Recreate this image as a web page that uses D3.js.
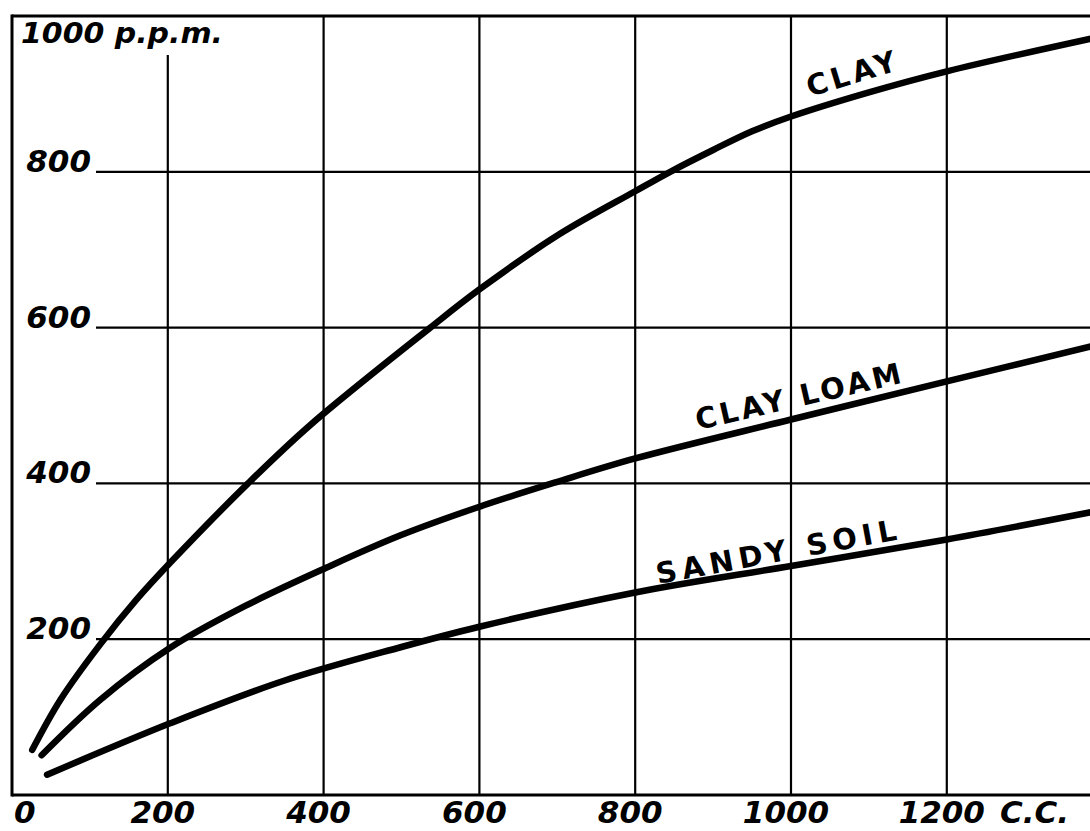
<!DOCTYPE html>
<html>
<head>
<meta charset="utf-8">
<script src="https://cdn.jsdelivr.net/npm/d3@7"></script>
<style>
  html, body { margin: 0; padding: 0; background: #fff; }
  svg { display: block; }
  text { font-family: "DejaVu Sans", sans-serif; fill: #000; }
</style>
</head>
<body>
<svg id="chart" width="1090" height="831"></svg>
<script>
// Volume of solution (c.c.) against concentration retained (p.p.m.) for three soils
const xTicks = [0, 200, 400, 600, 800, 1000, 1200];
const yTicks = [200, 400, 600, 800];

const clayCC  = [26, 62, 113, 160, 203, 303, 383, 537, 600, 703, 800, 845, 900, 950, 1000, 1100, 1200, 1390];
const clayPPM = [58, 122, 193, 251, 298, 400, 475, 600, 649, 720, 775, 800, 828, 852, 871, 902, 929, 972];

const loamCC  = [38, 113, 203, 300, 404, 498, 600, 700, 800, 1000, 1200, 1390];
const loamPPM = [51, 122, 189, 243, 292, 333, 370, 402, 432, 482, 531, 577];

const sandCC  = [45, 203, 350, 500, 600, 800, 1000, 1200, 1390];
const sandPPM = [26, 92, 147, 190, 216, 260, 294, 328, 364];

const curveNames = ["CLAY", "CLAY LOAM", "SANDY SOIL"];

const svg = d3.select("#chart");
const W = 1090;

const x = d3.scaleLinear().domain([0, 1400]).range([12, 12 + 1400 * 0.779]);
const y = d3.scaleLinear().domain([0, 1000]).range([795, 16]);

// grid
const grid = svg.append("g").attr("stroke", "#000").attr("stroke-width", 2.2).attr("fill", "none");
xTicks.filter(d => d > 0).forEach(d => {
  grid.append("line")
    .attr("x1", x(d)).attr("x2", x(d))
    .attr("y1", d === 200 ? 55 : y(1000)).attr("y2", y(0));
});
yTicks.forEach(d => {
  grid.append("line")
    .attr("x1", 96).attr("x2", W)
    .attr("y1", y(d)).attr("y2", y(d));
});

// frame: left, top and bottom edges
const frame = svg.append("g").attr("stroke", "#000").attr("stroke-width", 3).attr("fill", "none");
frame.append("line").attr("x1", x(0)).attr("x2", x(0)).attr("y1", y(1000) - 1.5).attr("y2", y(0) + 1.5);
frame.append("line").attr("x1", x(0)).attr("x2", W).attr("y1", y(1000)).attr("y2", y(1000));
frame.append("line").attr("x1", x(0)).attr("x2", W).attr("y1", y(0)).attr("y2", y(0));

// curves
const line = d3.line()
  .x(d => x(d[0]))
  .y(d => y(d[1]))
  .curve(d3.curveCatmullRom.alpha(0.5));

const series = [
  d3.zip(clayCC, clayPPM),
  d3.zip(loamCC, loamPPM),
  d3.zip(sandCC, sandPPM)
];

svg.append("g").selectAll("path")
  .data(series)
  .join("path")
  .attr("d", line)
  .attr("fill", "none")
  .attr("stroke", "#000")
  .attr("stroke-width", 6.5)
  .attr("stroke-linecap", "round")
  .attr("stroke-linejoin", "round");

// y axis labels
const yLab = svg.append("g")
  .attr("font-size", 31)
  .attr("font-style", "italic")
  .attr("font-weight", "bold")
  .attr("text-anchor", "end");
yTicks.forEach(d => {
  yLab.append("text").attr("x", 91).attr("y", y(d)).text(d);
});
svg.append("text")
  .attr("x", 21).attr("y", 43)
  .attr("font-size", 28)
  .attr("font-style", "italic")
  .attr("font-weight", "bold")
  .attr("textLength", 202)
  .attr("lengthAdjust", "spacingAndGlyphs")
  .text("1000 p.p.m.");

// x axis labels
const xLab = svg.append("g")
  .attr("font-size", 31)
  .attr("font-style", "italic")
  .attr("font-weight", "bold");
xTicks.forEach(d => {
  xLab.append("text")
    .attr("x", d === 0 ? 14 : x(d) - 5)
    .attr("y", 823)
    .attr("text-anchor", d === 0 ? "start" : "middle")
    .text(d);
});
xLab.append("text").attr("x", 1000).attr("y", 823).text("C.C.");

// curve names written along each curve
const names = [
  { name: curveNames[0], px: 810, py: 97, angle: -17, len: 92 },
  { name: curveNames[1], px: 698, py: 430, angle: -13, len: 210 },
  { name: curveNames[2], px: 658, py: 584, angle: -10.5, len: 244 }
];
svg.append("g").selectAll("text")
  .data(names)
  .join("text")
  .attr("transform", d => `translate(${d.px},${d.py}) rotate(${d.angle})`)
  .attr("font-size", 29)
  .attr("font-weight", "bold")
  .attr("textLength", d => d.len)
  .attr("lengthAdjust", "spacing")
  .text(d => d.name);
</script>
</body>
</html>
